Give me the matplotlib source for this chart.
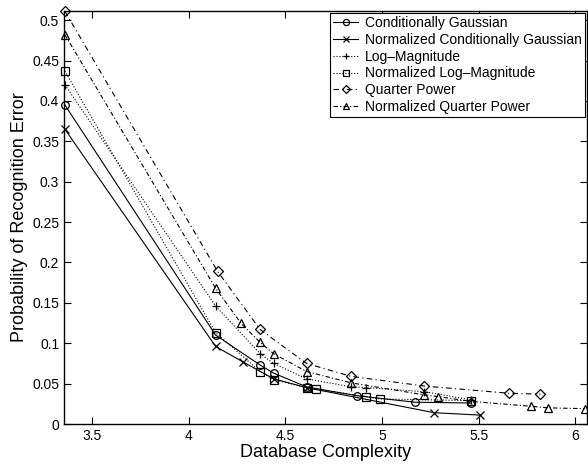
import matplotlib
matplotlib.use("Agg")
import matplotlib.pyplot as plt

plt.rcParams['font.family'] = ['Liberation Sans', 'DejaVu Sans']

# Values
cg_x = [3.36, 4.14, 4.37, 4.44, 4.61, 4.87, 5.17, 5.46]
cg_y = [0.395, 0.110, 0.073, 0.063, 0.046, 0.035, 0.027, 0.026]

ncg_x = [3.36, 4.14, 4.28, 4.44, 4.61, 5.27, 5.51]
ncg_y = [0.365, 0.096, 0.077, 0.056, 0.045, 0.014, 0.011]

lm_x = [3.36, 4.14, 4.37, 4.44, 4.61, 4.84, 4.92, 5.22, 5.46]
lm_y = [0.420, 0.146, 0.087, 0.075, 0.056, 0.046, 0.045, 0.040, 0.030]

nlm_x = [3.36, 4.14, 4.37, 4.44, 4.61, 4.66, 4.92, 4.99, 5.46]
nlm_y = [0.437, 0.113, 0.065, 0.055, 0.045, 0.043, 0.034, 0.031, 0.029]

qp_x = [3.36, 4.15, 4.37, 4.61, 4.84, 5.22, 5.66, 5.82]
qp_y = [0.511, 0.189, 0.117, 0.075, 0.059, 0.047, 0.038, 0.037]

nqp_x = [3.36, 4.14, 4.27, 4.37, 4.44, 4.61, 4.84, 5.22, 5.29, 5.46, 5.77, 5.86, 6.05]
nqp_y = [0.482, 0.168, 0.125, 0.101, 0.087, 0.065, 0.051, 0.036, 0.034, 0.028, 0.022, 0.020, 0.019]

labels = ["Conditionally Gaussian", "Normalized Conditionally Gaussian",
          "Log\u2013Magnitude", "Normalized Log\u2013Magnitude",
          "Quarter Power", "Normalized Quarter Power"]

x_ticks = [3.5, 4, 4.5, 5, 5.5, 6]
y_ticks = [0, 0.05, 0.1, 0.15, 0.2, 0.25, 0.3, 0.35, 0.4, 0.45, 0.5]
y_tick_labels = ["0", "0.05", "0.1", "0.15", "0.2", "0.25", "0.3", "0.35", "0.4", "0.45", "0.5"]

fig = plt.figure(figsize=(5.88, 4.68), dpi=100)
ax = fig.add_axes([0.109, 0.094, 0.889, 0.882])

lw = 0.8
ms = 5.5
common = dict(color='black', linewidth=lw, markersize=ms, fillstyle='none',
              markeredgewidth=0.9, clip_on=False)
ax.plot(cg_x, cg_y, '-o', label=labels[0], **common)
ax.plot(ncg_x, ncg_y, '-x', label=labels[1], **common)
ax.plot(lm_x, lm_y, ':+', label=labels[2], **common)
ax.plot(nlm_x, nlm_y, ':s', label=labels[3], **common)
ax.plot(qp_x, qp_y, '-.D', label=labels[4], dashes=(5, 3, 1, 3),
        **{**common, 'markersize': 5})
ax.plot(nqp_x, nqp_y, '-.^', label=labels[5], dashes=(4, 2, 1, 2), **common)

ax.set_xlim(3.356, 6.06)
ax.set_ylim(0, 0.511)
ax.set_xticks(x_ticks)
ax.set_xticklabels(["3.5", "4", "4.5", "5", "5.5", "6"])
ax.set_yticks(y_ticks)
ax.set_yticklabels(y_tick_labels)
ax.tick_params(direction='in', top=True, right=True, labelsize=10, length=5)
for s in ax.spines.values():
    s.set_linewidth(1.0)

ax.set_xlabel("Database Complexity", fontsize=13, labelpad=1)
ax.set_ylabel("Probability of Recognition Error", fontsize=13, labelpad=3)

leg = ax.legend(loc='upper right', fontsize=10, frameon=True, fancybox=False,
                edgecolor='black', framealpha=1, borderaxespad=0.1,
                handlelength=1.8, handletextpad=0.5, labelspacing=0.2,
                borderpad=0.25, markerscale=0.8)
leg.get_frame().set_linewidth(0.8)

fig.savefig("out.png", dpi=100)
